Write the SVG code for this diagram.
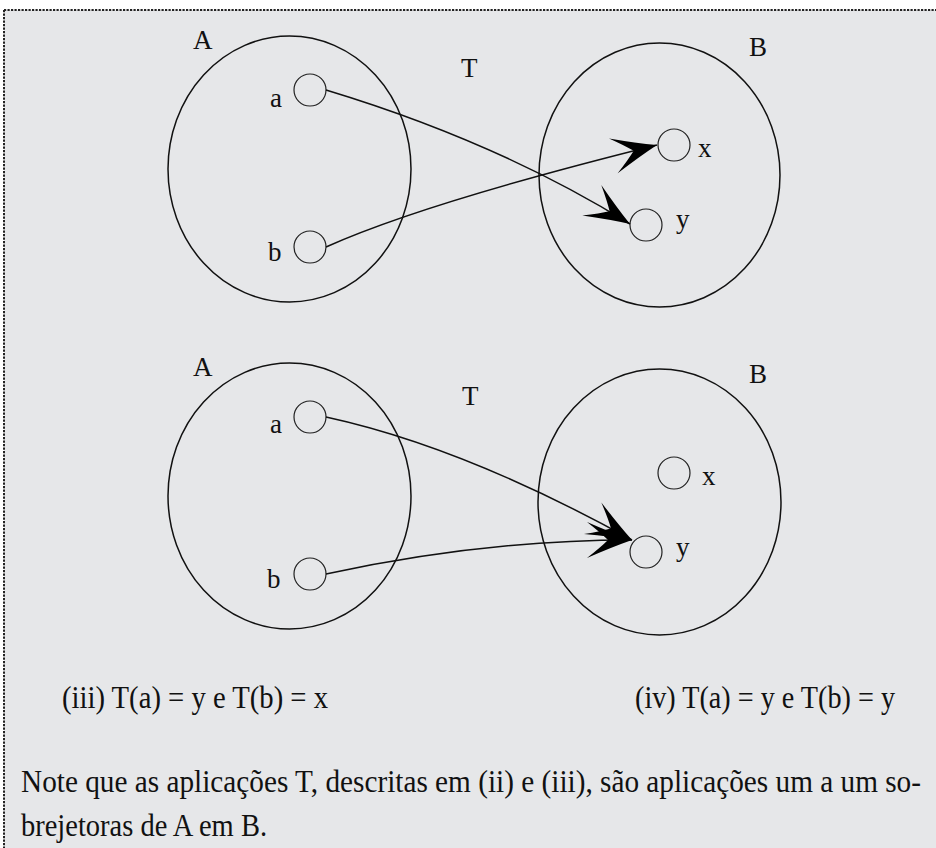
<svg xmlns="http://www.w3.org/2000/svg" width="936" height="848" viewBox="0 0 936 848">
<style>
.set{fill:none;stroke:#111;stroke-width:1.5}
.el{fill:none;stroke:#222;stroke-width:1.2}
.lbl{font-family:"Liberation Serif","Times New Roman",serif;font-size:27px;fill:#111}
.txt{font-family:"Liberation Serif","Times New Roman",serif;font-size:27px;fill:#111}
.con{fill:none;stroke:#111;stroke-width:1.5}
</style>
<defs>
<marker id="arr" viewBox="-50 -22 54 44" markerWidth="54" markerHeight="44" refX="0" refY="0" orient="auto" markerUnits="userSpaceOnUse" overflow="visible">
<path d="M0,0 Q-20,-7 -45,-18 Q-31,-7 -24,0 Q-31,7 -45,18 Q-20,7 0,0 Z" fill="#000"/>
</marker>
</defs>
<rect x="4" y="10" width="940" height="850" fill="#e6e7e9"/>
<path d="M4,10 H936 M4,10 V848" fill="none" stroke="#222" stroke-width="2" stroke-dasharray="2.2 1.3"/>

<g id="top-setA">
<ellipse class="set" cx="289.5" cy="169" rx="121.5" ry="133"/>
<text class="lbl" x="193" y="49">A</text>
</g>
<g id="top-a">
<circle class="el" cx="310" cy="90" r="16"/>
<text class="lbl" x="270" y="107">a</text>
</g>
<g id="top-b">
<circle class="el" cx="310" cy="247" r="16"/>
<text class="lbl" x="268" y="261">b</text>
</g>
<g id="top-T"><text class="lbl" x="461" y="77">T</text></g>
<g id="top-setB">
<ellipse class="set" cx="659.5" cy="175" rx="120.5" ry="132"/>
<text class="lbl" x="749" y="56">B</text>
</g>
<g id="top-x">
<circle class="el" cx="674" cy="145" r="16"/>
<text class="lbl" x="698" y="157">x</text>
</g>
<g id="top-y">
<circle class="el" cx="646" cy="225" r="16"/>
<text class="lbl" x="676" y="228">y</text>
</g>

<g id="bot-setA">
<ellipse class="set" cx="289.5" cy="496" rx="121.5" ry="133"/>
<text class="lbl" x="193" y="376">A</text>
</g>
<g id="bot-a">
<circle class="el" cx="310" cy="417" r="16"/>
<text class="lbl" x="270" y="433">a</text>
</g>
<g id="bot-b">
<circle class="el" cx="310" cy="574" r="16"/>
<text class="lbl" x="267" y="588">b</text>
</g>
<g id="bot-T"><text class="lbl" x="462" y="405">T</text></g>
<g id="bot-setB">
<ellipse class="set" cx="659.5" cy="502" rx="121.5" ry="133"/>
<text class="lbl" x="749" y="383">B</text>
</g>
<g id="bot-x">
<circle class="el" cx="674" cy="473" r="16"/>
<text class="lbl" x="702" y="485">x</text>
</g>
<g id="bot-y">
<circle class="el" cx="646" cy="552" r="16"/>
<text class="lbl" x="676" y="556">y</text>
</g>

<g id="connectors">
<path class="con" d="M326,90 Q498,142 630,224" marker-end="url(#arr)"/>
<path class="con" d="M326,247 Q424,203 657,145" marker-end="url(#arr)"/>
<path class="con" d="M326,417 Q464,447 632,540" marker-end="url(#arr)"/>
<path class="con" d="M326,574 Q484,540 632,540" marker-end="url(#arr)"/>
</g>

<g id="captions">
<text class="txt" transform="translate(62,708) scale(1,1.15)" textLength="266" lengthAdjust="spacingAndGlyphs">(iii) T(a) = y e T(b) = x</text>
<text class="txt" transform="translate(635,708) scale(1,1.15)" textLength="260" lengthAdjust="spacingAndGlyphs">(iv) T(a) = y e T(b) = y</text>
<text class="txt" transform="translate(21,792) scale(1,1.15)" textLength="900" lengthAdjust="spacingAndGlyphs">Note que as aplicações T, descritas em (ii) e (iii), são aplicações um a um so-</text>
<text class="txt" transform="translate(21,836) scale(1,1.15)" textLength="246" lengthAdjust="spacingAndGlyphs">brejetoras de A em B.</text>
</g>
</svg>
